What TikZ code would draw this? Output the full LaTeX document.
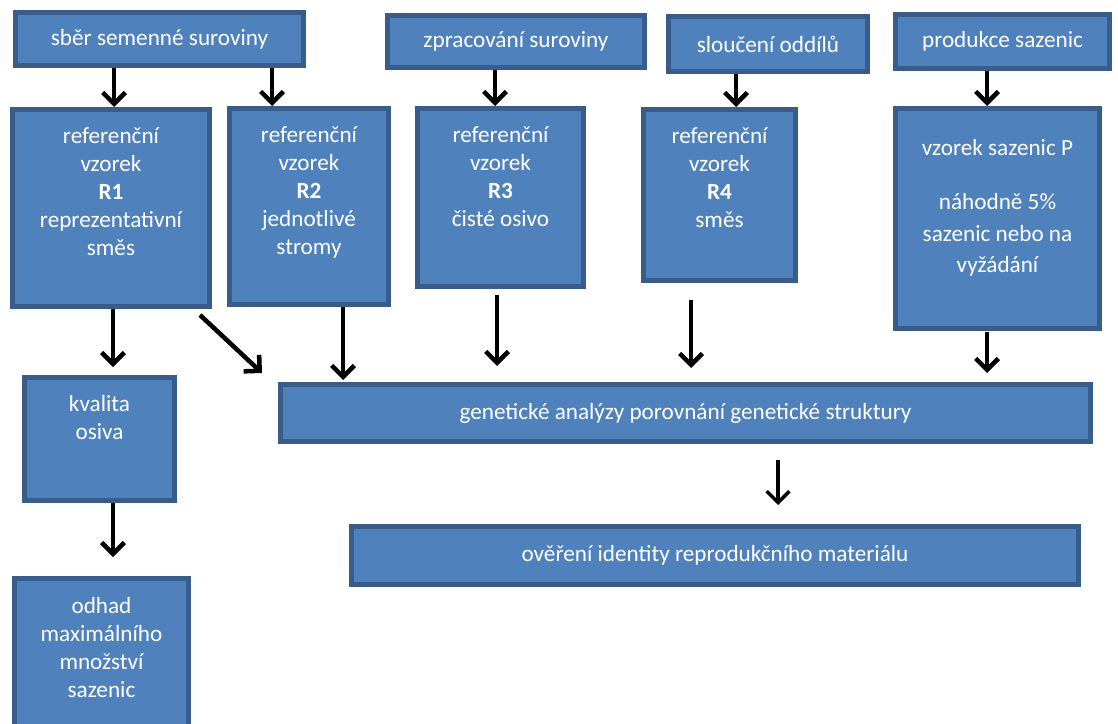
\documentclass[tikz,border=0pt]{standalone}
\usepackage{fontspec}
\setmainfont{Carlito}
\usepackage{tikz}
\usetikzlibrary{arrows.meta,positioning,calc,fit}
\definecolor{vypln}{HTML}{4F81BD}
\definecolor{okraj}{HTML}{385D8A}

\begin{document}
\begin{tikzpicture}[x=0.75pt,y=-0.75pt,
  blok/.style={draw=okraj,fill=vypln,line width=3.6pt,inner sep=-1.8pt},
  popis/.style={text=white,align=center,inner sep=0pt,font=\fontsize{17.4}{21}\selectfont},
  sipka/.style={line width=3.4pt,-{Straight Barb[length=8.5pt,width=17pt]}}]

  \useasboundingbox (0,0) rectangle (1118,724);

  % horni rada
  \node [blok,fit={(13,10)(306,68)}] (sber) {};
  \node [popis] (sbert) at (sber) {sběr semenné suroviny};
  \node [blok,fit={(385,13)(647,70)}] (zprac) {};
  \node [popis] (zpract) at (zprac) {zpracování suroviny};
  \node [blok,fit={(666,14)(870,74)}] (slouc) {};
  \node [popis] (slouct) at (slouc) {sloučení oddílů};
  \node [blok,fit={(893,12)(1112,71)}] (prod) {};
  \node [popis] (prodt) at (prod) {produkce sazenic};

  % vzorky
  \node [blok,fit={(10,107)(212,309)}] (R1) {};
  \node [popis,below=15.5pt of R1.north] (R1t) {referenční\\vzorek\\\textbf{R1}\\reprezentativní\\směs};
  \node [blok,fit={(227,106)(391,307)}] (R2) {};
  \node [popis,below=15.5pt of R2.north] (R2t) {referenční\\vzorek\\\textbf{R2}\\jednotlivé\\stromy};
  \node [blok,fit={(415,106)(586,289)}] (R3) {};
  \node [popis,below=15.5pt of R3.north] (R3t) {referenční\\vzorek\\\textbf{R3}\\čisté osivo};
  \node [blok,fit={(641,107)(798,283)}] (R4) {};
  \node [popis,below=15.5pt of R4.north] (R4t) {referenční\\vzorek\\\textbf{R4}\\směs};
  \node [blok,fit={(893,106)(1102,331)}] (P) {};
  \node [popis,font=\fontsize{17.4}{23.5}\selectfont,below=25pt of P.north] (Pt) {vzorek sazenic P\\[17pt]náhodně 5\%\\sazenic nebo na\\vyžádání};

  % spodni cast
  \node [blok,fit={(22,375)(177,503)}] (kval) {};
  \node [popis,below=15.2pt of kval.north] (kvalt) {kvalita\\osiva};
  \node [blok,fit={(12,576)(191,760)}] (odhad) {};
  \node [popis,below=15.7pt of odhad.north] (odhadt) {odhad\\maximálního\\množství\\sazenic};
  \node [blok,fit={(278,382)(1093,444)}] (gen) {};
  \node [popis] (gent) at (gen) {genetické analýzy porovnání genetické struktury};
  \node [blok,fit={(349,524)(1081,587)}] (over) {};
  \node [popis] (overt) at (over) {ověření identity reprodukčního materiálu};

  % sipky
  \draw [sipka] ($(sber.south)+(-45.5,0)$) -- ($(R1.north)+(3,0)$);
  \draw [sipka] ($(sber.south)+(112.5,0)$) -- ($(R2.north)+(-37,0)$);
  \draw [sipka] ($(zprac.south)+(-21,0)$) -- ($(R3.north)+(-5.5,0)$);
  \draw [sipka] ($(slouc.south)+(-32,0)$) -- ($(R4.north)+(16.5,0)$);
  \draw [sipka] ($(prod.south)+(-15.5,0)$) -- ($(P.north)+(-10.5,0)$);
  \draw [sipka] ($(R1.south)+(2,0)$) -- ($(kval.north)+(13.5,-8)$);
  \draw [sipka] ($(R1.south east)+(-12,6)$) -- ($(gen.north west)+(-16,-9)$);
  \draw [sipka] ($(R2.south)+(34,0)$) -- ($(gen.north west)+(65,-2)$);
  \draw [sipka] ($(R3.south)+(-3.5,6)$) -- ($(gen.north west)+(219,-16)$);
  \draw [sipka] ($(R4.south)+(-28.5,17)$) -- ($(gen.north west)+(413,-14)$);
  \draw [sipka] ($(P.south)+(-10.5,1)$) -- ($(gen.north west)+(709,-9)$);
  \draw [sipka] ($(kval.south)+(13.5,0)$) -- ($(odhad.north)+(11.5,-19)$);
  \draw [sipka,line width=2.6pt] ($(gen.south)+(92.5,16)$) -- ($(over.north)+(63,-19)$);
\end{tikzpicture}
\end{document}
